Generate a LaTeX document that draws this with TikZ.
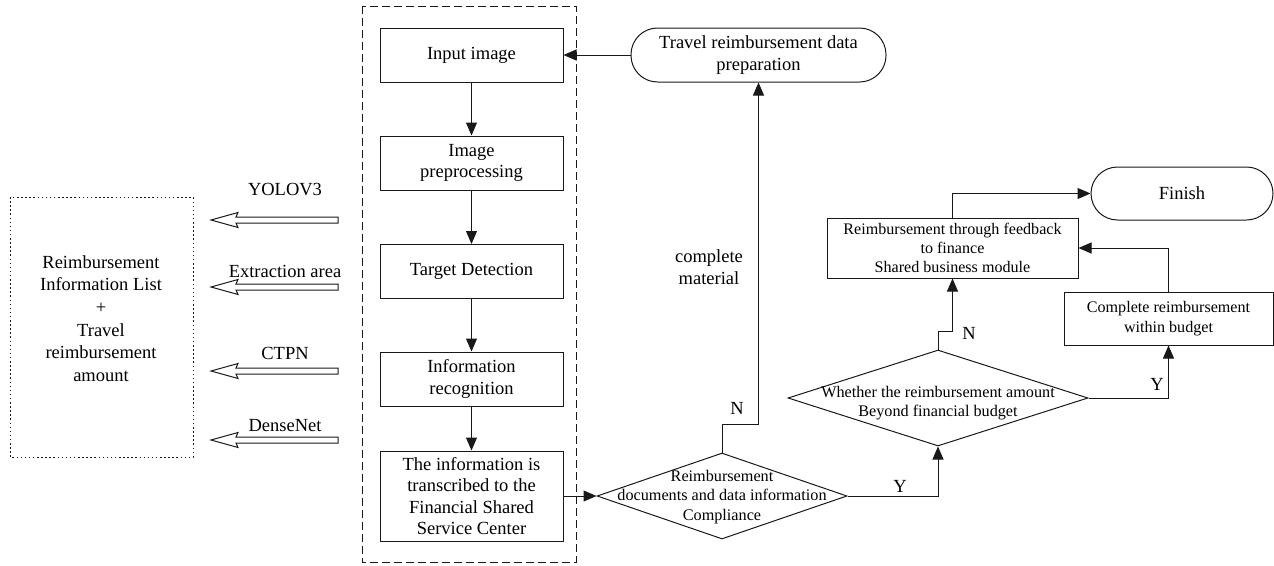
\documentclass[tikz,border=0pt]{standalone}
\usepackage{fontspec}
\setmainfont{Liberation Serif}
\usetikzlibrary{arrows.meta,shapes.geometric,positioning}
\begin{document}
\begin{tikzpicture}[x=1pt,y=-1pt,
  every node/.style={inner sep=0pt},
  ln/.style={line width=1pt,draw=black!90},
  box/.style={ln,draw,rectangle,align=center,font=\fontsize{18.5}{21.5}\selectfont},
  sbox/.style={ln,draw,rectangle,align=center,font=\fontsize{16.1}{19.3}\selectfont},
  stad/.style={ln,draw,rectangle,rounded corners=26.5pt,align=center,font=\fontsize{18.5}{21.5}\selectfont},
  dia/.style={ln,draw,diamond,minimum width=#1},
  dtext/.style={align=center,font=\fontsize{16.2}{19.5}\selectfont},
  lbl/.style={align=center,font=\fontsize{18.5}{22.6}\selectfont},
  arr/.style={ln,-{Triangle[length=13pt,width=11pt]}},
  hollow/.style={ln,draw}
]
\useasboundingbox (0,0) rectangle (1274,565);

% dashed group
\draw[ln,dash pattern=on 8pt off 4pt] (362,6) rectangle (576,562);
% dotted box
\draw[ln,dash pattern=on 1.5pt off 2.6pt] (10,197) rectangle (193,457);
\node[lbl] (info) at (101,318.5) {Reimbursement\\Information List\\+\\Travel\\reimbursement\\amount};

% hollow arrows
\foreach \yy/\name/\txt/\ty in {220/a1/YOLOV3/190, 287/a2/Extraction area/271, 371/a3/CTPN/353, 440/a4/DenseNet/426}{
  \draw[hollow] (338,\yy-3) -- (236,\yy-3) -- (238,\yy-7.5) -- (211,\yy) -- (238,\yy+7.5) -- (236,\yy+3) -- (338,\yy+3) -- cycle;
  \node[lbl] (\name) at (285,\ty) {\txt};
}

% left column boxes
\node[box,minimum width=183pt,minimum height=54pt] (input) at (471.5,55) {Input image};
\node[box,minimum width=183pt,minimum height=54pt] (prep) at (471.5,163) {Image\\preprocessing};
\node[box,minimum width=183pt,minimum height=54pt] (target) at (471.5,271.5) {Target Detection};
\node[box,minimum width=183pt,minimum height=54pt] (recog) at (471.5,379) {Information\\recognition};
\node[box,minimum width=183pt,minimum height=90pt] (trans) at (471.5,496) {The information is\\transcribed to the\\Financial Shared\\Service Center};

% terminals
\node[stad,minimum width=255pt,minimum height=54pt] (travel) at (758.5,55) {Travel reimbursement data\\preparation};
\node[stad,minimum width=182pt,minimum height=53pt] (finish) at (1182,193.5) {Finish};

% right boxes
\node[sbox,minimum width=251pt,minimum height=60pt] (feed) at (952.5,248) {Reimbursement through feedback\\to finance\\Shared business module};
\node[sbox,minimum width=209pt,minimum height=53pt] (compl) at (1168.5,318.5) {Complete reimbursement\\within budget};

% diamonds
\node[dia=250pt,minimum height=86pt] (d1) at (722,496) {};
\node[dtext] (d1t) at (722,497) {Reimbursement\\documents and data information\\Compliance};
\node[dia=300pt,minimum height=96pt] (d2) at (938,398) {};
\node[dtext] (d2t) at (938,403) {Whether the reimbursement amount\\Beyond financial budget};

% connectors
\draw[arr] (input) -- (prep);
\draw[arr] (prep) -- (target);
\draw[arr] (target) -- (recog);
\draw[arr] (recog) -- (trans);
\draw[arr] (travel.west) -- (input.east);
\draw[arr] (trans.east) -- (d1.west);
\draw[arr] (d1.north) -- ++(0,-28) -| (travel.south);
\draw[arr] (d1.east) -| (d2.south);
\draw[arr] (d2.north) -- ++(0,-18) -| (feed.south);
\draw[arr] (d2.east) -| (compl.south);
\draw[arr] (compl.north) |- (feed.east);
\draw[arr] (feed.north) |- (finish.west);

% labels
\node[lbl] (lN1) at (737,408) {N};
\node[lbl] (lcm) at (709,267) {complete\\material};
\node[lbl] (lY1) at (900,486) {Y};
\node[lbl] (lN2) at (969,333) {N};
\node[lbl] (lY2) at (1157,384) {Y};
\end{tikzpicture}
\end{document}
